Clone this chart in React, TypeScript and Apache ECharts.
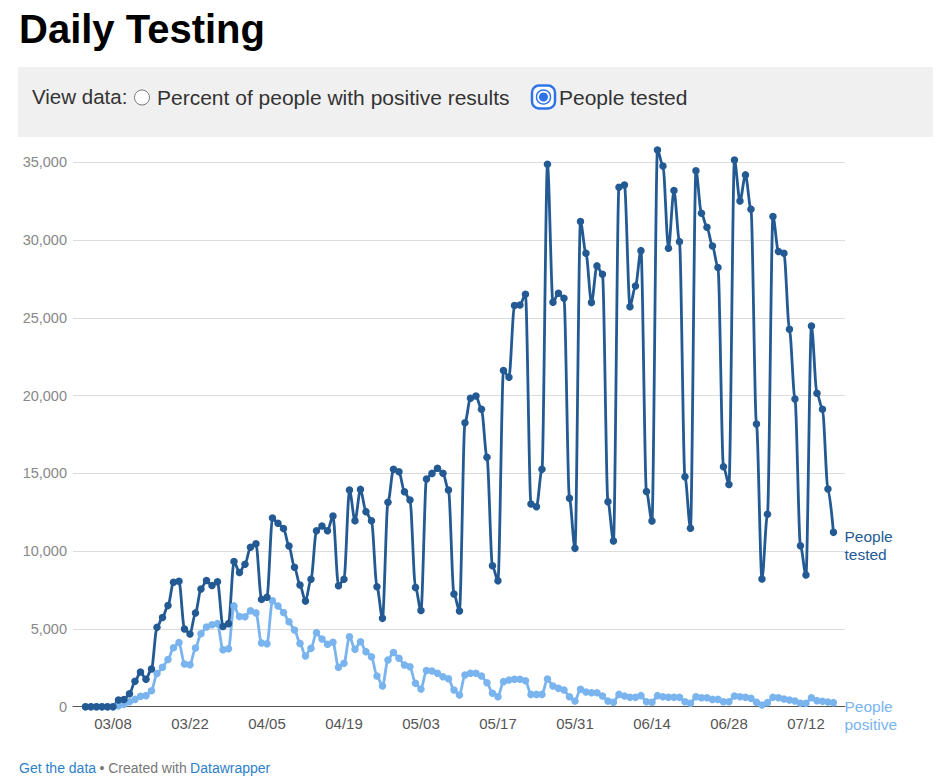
import React, { useEffect, useRef } from "react";
import * as echarts from "echarts";

// Day 0 = 03/03, last day = 07/17
const monthStarts = [
  { m: 3, from: 3, to: 31 },
  { m: 4, from: 1, to: 30 },
  { m: 5, from: 1, to: 31 },
  { m: 6, from: 1, to: 30 },
  { m: 7, from: 1, to: 17 },
];
const dates: string[] = [];
monthStarts.forEach(({ m, from, to }) => {
  for (let d = from; d <= to; d++) {
    dates.push(String(m).padStart(2, "0") + "/" + String(d).padStart(2, "0"));
  }
});

const tickLabels = ["03/08", "03/22", "04/05", "04/19", "05/03", "05/17", "05/31", "06/14", "06/28", "07/12"];

const peopleTested = [
  0, 0, 0, 0, 0, 0, 430, 460, 830, 1630,
  2230, 1770, 2420, 5100, 5740, 6500, 8000, 8070, 5000, 4670,
  6030, 7570, 8110, 7790, 8030, 5160, 5340, 9330, 8630, 9160,
  10250, 10470, 6900, 7040, 12130, 11790, 11460, 10330, 8960, 7820,
  6790, 8190, 11310, 11620, 11310, 12260, 7780, 8190, 13930, 11960,
  13970, 12540, 11960, 7710, 5680, 13140, 15260, 15110, 13820, 13290,
  7670, 6180, 14640, 15000, 15330, 15010, 13930, 7250, 6160, 18260,
  19830, 19980, 19120, 16030, 9060, 8090, 21610, 21180, 25790, 25830,
  26510, 13030, 12860, 15260, 34870, 26000, 26580, 26260, 13400, 10180,
  31190, 29150, 25980, 28340, 27800, 13180, 10660, 33390, 33540, 25720,
  27050, 29320, 13830, 11940, 35790, 34760, 29470, 33180, 29900, 14790,
  11470, 34460, 31720, 30820, 29620, 28230, 15430, 14290, 35150, 32510,
  34190, 31980, 18180, 8210, 12370, 31510, 29260, 29150, 24260, 19780,
  10350, 8470, 24480, 20150, 19120, 14000, 11210,
];

const peoplePositive = [
  0, 0, 0, 0, 0, 0, 60, 150, 320, 470,
  670, 710, 1030, 2130, 2530, 3030, 3790, 4130, 2740, 2700,
  3770, 4690, 5120, 5270, 5340, 3660, 3720, 6480, 5800, 5780,
  6170, 6030, 4100, 4040, 6810, 6470, 6060, 5460, 4930, 4070,
  3260, 3750, 4760, 4350, 4010, 4140, 2530, 2790, 4500, 3690,
  4180, 3540, 3210, 1970, 1330, 3000, 3490, 3110, 2680, 2570,
  1500, 1130, 2320, 2300, 2150, 1930, 1800, 1070, 750, 2040,
  2150, 2150, 1970, 1545, 860, 640, 1610, 1720, 1760, 1760,
  1670, 790, 790, 790, 1780, 1330, 1180, 1070, 640, 360,
  1120, 940, 900, 900, 690, 360, 280, 790, 690, 600,
  600, 710, 320, 280, 710, 645, 600, 600, 600, 320,
  215, 645, 580, 580, 470, 470, 320, 320, 690, 645,
  600, 540, 280, 110, 260, 600, 580, 490, 430, 365,
  215, 215, 580, 390, 345, 300, 260,
];

const DARK = "#235a93";
const LIGHT = "#7ab4ee";
const BLUE = "#2f74e6";
const FONT = "'Liberation Sans', Arial, Helvetica, sans-serif";

export default function App() {
  const ref = useRef<HTMLDivElement>(null);

  useEffect(() => {
    if (!ref.current) return;
    const chart = echarts.init(ref.current, undefined, { renderer: "svg" });
    const tickPos = tickLabels.map((t) => dates.indexOf(t));
    const toPairs = (arr: number[]) => arr.map((v, i) => [i, v]);

    const endLabel = (text: string, color: string) => ({
      show: true,
      formatter: text,
      color,
      fontSize: 15.5,
      lineHeight: 18,
      fontFamily: FONT,
      distance: 11,
      verticalAlign: "top",
      offset: [0, -5],
    });

    chart.setOption({
      animation: false,
      textStyle: { fontFamily: FONT },
      grid: { left: 73, right: 102, top: 162.3, bottom: 77.3, containLabel: false },
      xAxis: {
        type: "value",
        min: -2.27,
        max: 138.1,
        axisLine: { show: true, lineStyle: { color: "#555", width: 1 } },
        axisTick: { show: false },
        splitLine: { show: false },
        axisLabel: {
          customValues: tickPos,
          formatter: (v: number) => dates[Math.round(v)],
          color: "#555",
          fontSize: 15,
          margin: 9,
          fontFamily: FONT,
        },
      },
      yAxis: {
        type: "value",
        min: 0,
        max: 35000,
        interval: 5000,
        axisLine: { show: false },
        axisTick: { show: false },
        splitLine: { lineStyle: { color: "#dcdcdc", width: 1 } },
        axisLabel: {
          formatter: (v: number) => v.toLocaleString("en-US"),
          color: "#888",
          fontSize: 14.5,
          margin: 6,
          fontFamily: FONT,
        },
      },
      series: [
        {
          name: "People positive",
          type: "line",
          data: toPairs(peoplePositive),
          smooth: 0.3,
          smoothMonotone: "x",
          clip: false,
          symbol: "circle",
          symbolSize: 7.5,
          showAllSymbol: true,
          lineStyle: { color: LIGHT, width: 2.8 },
          itemStyle: { color: LIGHT },
          endLabel: endLabel("People\npositive", LIGHT),
        },
        {
          name: "People tested",
          type: "line",
          data: toPairs(peopleTested),
          smooth: 0.3,
          smoothMonotone: "x",
          clip: false,
          symbol: "circle",
          symbolSize: 7.5,
          showAllSymbol: true,
          lineStyle: { color: DARK, width: 2.8 },
          itemStyle: { color: DARK },
          endLabel: endLabel("People\ntested", DARK),
        },
      ],
      graphic: [
        {
          type: "text",
          left: 19,
          top: 9,
          style: {
            text: "Daily Testing",
            font: `bold 40px ${FONT}`,
            fill: "#000",
          },
        },
        {
          type: "rect",
          shape: { x: 18, y: 67, width: 915, height: 70 },
          style: { fill: "#f0f0f0" },
          z: -10,
        },
        {
          type: "text",
          x: 32,
          y: 96,
          style: {
            text: "View data:",
            font: `20.5px ${FONT}`,
            fill: "#333",
            verticalAlign: "middle",
          },
        },
        {
          type: "circle",
          shape: { cx: 142, cy: 97.5, r: 7.5 },
          style: { fill: "#fff", stroke: "#777", lineWidth: 1 },
        },
        {
          type: "text",
          x: 157,
          y: 97,
          style: {
            text: "Percent of people with positive results",
            font: `21px ${FONT}`,
            fill: "#333",
            verticalAlign: "middle",
          },
        },
        {
          type: "rect",
          shape: { x: 532, y: 85.5, width: 23, height: 23, r: 7 },
          style: { fill: "#fff", stroke: BLUE, lineWidth: 2.5 },
        },
        {
          type: "circle",
          shape: { cx: 543.5, cy: 97, r: 7 },
          style: { fill: "#fff", stroke: BLUE, lineWidth: 1.5 },
        },
        {
          type: "circle",
          shape: { cx: 543.5, cy: 97, r: 4.5 },
          style: { fill: BLUE },
        },
        {
          type: "text",
          x: 559,
          y: 97,
          style: {
            text: "People tested",
            font: `21px ${FONT}`,
            fill: "#333",
            verticalAlign: "middle",
          },
        },
        {
          type: "text",
          x: 19,
          y: 768,
          style: {
            text: "{a|Get the data} {b|• Created with} {a|Datawrapper}",
            verticalAlign: "middle",
            rich: {
              a: { fontSize: 14, fill: "#2e7fc9", fontFamily: FONT },
              b: { fontSize: 14, fill: "#777", fontFamily: FONT },
            },
          },
        },
      ],
    });
    return () => chart.dispose();
  }, []);

  return (
    <div
      ref={ref}
      style={{ position: "absolute", left: 0, top: 0, width: 947, height: 784, background: "#fff" }}
    />
  );
}
